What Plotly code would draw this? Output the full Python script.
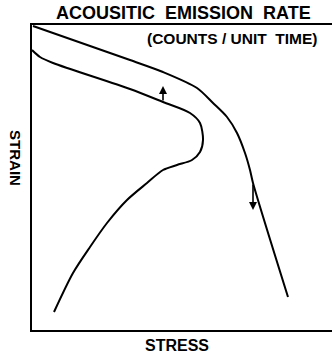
import plotly.graph_objects as go

# Outer curve (stress vs strain, arbitrary units)
outer_stress = [1, 98, 131, 165, 181, 195, 205, 213, 218, 221, 256]
outer_strain = [304, 270, 258, 242, 227, 213, 197, 177, 160, 147, 33]

# Inner curve
inner_stress = [0, 8, 21, 98, 131, 158, 168, 171, 168, 160, 145, 131, 115, 95, 75, 58, 41, 22]
inner_strain = [280, 273, 267, 241, 228, 217, 207, 190, 178, 170, 165, 160, 147, 130, 107, 83, 57, 18]

# Arrows: (stress, strain tail, strain head)
arrows = [(131, 228, 244), (221, 147, 120)]

title_text = "ACOUSITIC  EMISSION  RATE"
subtitle_text = "(COUNTS / UNIT  TIME)"
x_label = "STRESS"
y_label = "STRAIN"

FONT = "Liberation Sans"

fig = go.Figure()
for xs, ys in [(outer_stress, outer_strain), (inner_stress, inner_strain)]:
    fig.add_trace(go.Scatter(x=xs, y=ys, mode="lines",
                             line=dict(color="black", width=2, shape="spline", smoothing=0.8),
                             showlegend=False, hoverinfo="skip"))

for sx, tail, head in arrows:
    fig.add_annotation(x=sx, y=head, ax=sx, ay=tail, xref="x", yref="y", axref="x", ayref="y",
                       showarrow=True, arrowhead=2, arrowsize=1, arrowwidth=1.6,
                       arrowcolor="black", text="")

fig.add_annotation(text=title_text, x=0.505, y=1.038, xref="paper", yref="paper",
                   showarrow=False, xanchor="center", yanchor="middle",
                   font=dict(family=FONT, size=18, color="black", weight="bold"))
fig.add_annotation(text=subtitle_text, x=0.668, y=0.956, xref="paper", yref="paper",
                   showarrow=False, xanchor="center", yanchor="middle",
                   font=dict(family=FONT, size=15.5, color="black", weight="bold"))
fig.add_annotation(text=x_label, x=0.483, y=-0.052, xref="paper", yref="paper",
                   showarrow=False, xanchor="center", yanchor="middle",
                   font=dict(family=FONT, size=16, color="black", weight="bold"))
fig.add_annotation(text=y_label, x=-0.057, y=0.564, xref="paper", yref="paper",
                   showarrow=False, xanchor="center", yanchor="middle", textangle=90,
                   font=dict(family=FONT, size=15, color="black", weight="bold"))

fig.update_layout(
    width=332, height=355,
    margin=dict(l=32, r=0, t=25, b=25),
    plot_bgcolor="white", paper_bgcolor="white",
    xaxis=dict(range=[0, 300], showline=True, mirror=True, linecolor="black", linewidth=2,
               showgrid=False, zeroline=False, showticklabels=False, ticks=""),
    yaxis=dict(range=[0, 305], showline=True, linecolor="black", linewidth=2,
               showgrid=False, zeroline=False, showticklabels=False, ticks=""),
)

fig.write_html("out.html", config={"displayModeBar": False},
               post_script="document.body.style.margin='0px';document.body.style.overflow='hidden';")
